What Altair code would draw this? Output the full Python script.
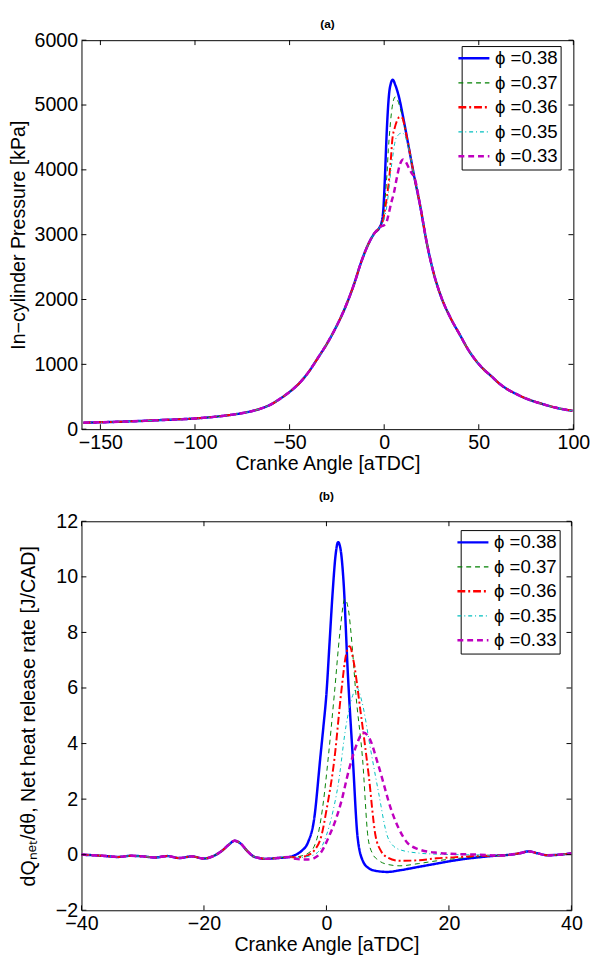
import altair as alt
import pandas as pd

# ---------------- shared series definitions ----------------
LABELS = ["ϕ =0.38", "ϕ =0.37", "ϕ =0.36", "ϕ =0.35", "ϕ =0.33"]
COLORS = ["#0000ff", "#008000", "#ff0000", "#00bfbf", "#bf00bf"]
DASHES = [[1, 0], [5, 4], [8, 3, 2, 3], [4, 3, 1, 3], [6, 4]]
WIDTHS = [2.5, 1.0, 2.0, 1.0, 2.5]

# ---------------- panel (a): in-cylinder pressure ----------------
A_LEFT_X = [-159, -150, -140, -130, -120, -110, -100, -90, -80, -72, -65, -60, -55, -50,
            -45, -40, -35, -30, -25, -21, -16, -12, -8.6, -5.2, -2.6]
A_LEFT_P = [100, 106, 115, 125, 138, 150, 165, 190, 225, 265, 320, 380, 470, 575,
            705, 880, 1100, 1330, 1600, 1850, 2230, 2590, 2840, 3020, 3105]
A_RIGHT_X = [16, 19, 22.4, 25.9, 30, 35, 39.7, 45, 48.3, 52, 56.9, 61, 65.5, 70, 74.2,
             78, 82.8, 87, 91, 95, 99.5]
A_RIGHT_P = [3880, 3450, 2892, 2435, 2050, 1720, 1472, 1200, 1065, 940, 811, 700, 609,
             540, 482, 440, 396, 360, 330, 305, 284]

A_MID_X = [
    [-1.4, -0.3, 0.35, 1.4, 2.6, 3.5, 4.5, 6.0, 7.8, 10.3, 12.9],
    [-1.4, -0.6, 0.5, 1.5, 2.2, 3.0, 3.8, 4.8, 5.8, 7.0, 8.5, 10.3, 12.9],
    [-1.4, -0.5, 0.5, 1.5, 2.6, 3.5, 4.3, 5.5, 6.8, 8.0, 8.8, 9.8, 11.0, 12.9],
    [-1.4, -0.5, 0.5, 1.5, 2.5, 3.4, 4.5, 6.0, 7.5, 8.8, 9.8, 11.0, 12.9],
    [-1.4, -0.5, 0.9, 1.8, 2.6, 3.8, 5.2, 6.5, 8.0, 9.0, 10.0, 11.5, 13.0, 14.5],
]
A_MID_P = [
    [3186, 3450, 3856, 4617, 5175, 5330, 5390, 5300, 5125, 4770, 4364],
    [3180, 3260, 3560, 3950, 4312, 4620, 4870, 5060, 5125, 5080, 4950, 4740, 4364],
    [3170, 3230, 3400, 3600, 3856, 4150, 4465, 4640, 4760, 4815, 4820, 4790, 4640, 4364],
    [3160, 3200, 3300, 3460, 3700, 3957, 4200, 4465, 4540, 4565, 4566, 4520, 4330],
    [3130, 3140, 3170, 3250, 3349, 3500, 3653, 3850, 4050, 4130, 4160, 4120, 4030, 3950],
]

# ---------------- panel (b): net heat release rate ----------------
B_LEFT_X = [-40, -38, -36, -34, -32, -30, -28, -26, -24, -22, -20, -18.5, -17, -16, -15,
            -14, -13, -12, -11, -10, -8, -6]
B_LEFT_Q = [0.0, -0.02, -0.05, -0.08, -0.04, -0.06, -0.1, -0.05, -0.12, -0.06, -0.14,
            -0.05, 0.15, 0.35, 0.5, 0.4, 0.15, -0.05, -0.12, -0.15, -0.12, -0.08]
B_RIGHT_X = [28, 30, 31.5, 33, 34.5, 36, 38, 40]
B_RIGHT_Q = [-0.03, 0.0, 0.05, 0.12, 0.05, -0.02, 0.0, 0.05]

B_MID_X = [
    [-5, -4, -3, -2, -1, -0.5, 0, 0.5, 1, 1.5, 1.9, 2.3, 2.8, 3.5, 4.3, 5.1, 6, 7, 8, 10,
     12, 15, 18, 20, 22, 25],
    [-5, -4, -3, -2, -1.3, -0.5, 0.27, 1.3, 2.2, 3.0, 3.6, 4.2, 4.8, 5.9, 6.8, 7.5, 8.5,
     10, 12, 15, 18, 22, 25],
    [-5, -4, -3, -2, -0.8, 0, 1.3, 2.4, 3.2, 3.8, 4.4, 5.6, 6.9, 8, 9, 10, 12, 15, 18,
     22, 25],
    [-5, -4, -3, -2, -1, 0, 1, 1.9, 3.2, 4.4, 5.0, 5.8, 7.2, 8.5, 9.9, 11, 12, 15, 18,
     22, 25],
    [-5, -4, -3, -2, -1, 0.5, 1.5, 2.4, 3.7, 5.0, 6.0, 7.0, 8.5, 10.7, 13.1, 15, 18, 22,
     25],
]
B_MID_Q = [
    [0.0, 0.15, 0.45, 1.3, 3.5, 4.6, 5.8, 7.6, 9.4, 10.8, 11.25, 11.0, 9.8, 6.5, 3.5,
     0.6, -0.25, -0.5, -0.58, -0.62, -0.56, -0.44, -0.32, -0.24, -0.17, -0.09],
    [-0.08, -0.04, 0.05, 0.3, 0.8, 1.9, 3.44, 5.8, 8.0, 9.2, 8.8, 7.5, 5.8, 3.44, 0.6,
     0.05, -0.2, -0.35, -0.4, -0.32, -0.22, -0.12, -0.07],
    [-0.1, -0.08, -0.02, 0.15, 0.7, 1.6, 3.44, 5.82, 7.2, 7.5, 7.0, 5.1, 2.86, 0.7, 0.1,
     -0.1, -0.22, -0.2, -0.13, -0.08, -0.04],
    [-0.12, -0.1, -0.06, 0.0, 0.2, 0.7, 1.5, 2.5, 4.64, 5.8, 6.0, 5.5, 3.8, 2.25, 0.7,
     0.3, 0.18, 0.06, 0.02, 0.0, -0.01],
    [-0.15, -0.17, -0.17, -0.12, 0.05, 0.7, 1.25, 1.89, 3.08, 4.0, 4.4, 4.2, 3.2, 1.54,
     0.46, 0.2, 0.07, 0.02, 0.0],
]

# ---------------- axis ticks ----------------
A_XTICKS = [-150, -100, -50, 0, 50, 100]
A_YTICKS = [0, 1000, 2000, 3000, 4000, 5000, 6000]
B_XTICKS = [-40, -20, 0, 20, 40]
B_YTICKS = [-2, 0, 2, 4, 6, 8, 10, 12]

FONT = "Liberation Sans"
FS = 20
LFS = 19
H = 397
TICK = 5


def build(lx, ly, mxs, mys, rx, ry):
    rows = []
    for lab, w, mx, my in zip(LABELS, WIDTHS, mxs, mys):
        xs = lx + mx + rx
        ys = ly + my + ry
        for i, (a, b) in enumerate(zip(xs, ys)):
            rows.append({"phi": lab, "w": w, "x": a, "y": b, "o": i})
    return pd.DataFrame(rows)


def panel(df, W, xdom, ydom, xticks, yticks, ytitle, title, toff, tpad, legx, legy):
    xs = alt.Scale(domain=xdom, nice=False, zero=False)
    ys = alt.Scale(domain=ydom, nice=False, zero=False)
    leg = alt.Legend(
        orient="none", legendX=legx, legendY=legy, title=None,
        symbolType="stroke", symbolSize=1000,
        symbolStrokeWidth=alt.ExprRef(
            expr="(datum.value == 'ϕ =0.37' || datum.value == 'ϕ =0.35') ? 1.2 : 2.5"),
        labelFont=FONT, labelFontSize=LFS, labelColor="black", labelOffset=12,
        strokeColor="black", fillColor="white", padding=3, rowPadding=5,
        cornerRadius=0,
    )
    lines = alt.Chart(df).mark_line(clip=True, interpolate="monotone").encode(
        x=alt.X("x:Q", scale=xs, axis=alt.Axis(
            values=xticks, title="Cranke Angle [aTDC]", ticks=False, domain=False,
            grid=False, labelPadding=4, titlePadding=1, labelFlush=False,
            labelOverlap=False)),
        y=alt.Y("y:Q", scale=ys, axis=alt.Axis(
            values=yticks, title=ytitle, ticks=False, domain=False, grid=False,
            format="d", labelPadding=4, titlePadding=tpad, labelOverlap=False)),
        color=alt.Color("phi:N", scale=alt.Scale(domain=LABELS, range=COLORS), legend=leg),
        strokeDash=alt.StrokeDash("phi:N", scale=alt.Scale(domain=LABELS, range=DASHES),
                                  legend=leg),
        strokeWidth=alt.StrokeWidth("w:Q", scale=None, legend=None),
        order=alt.Order("o:Q"),
    )
    xt = pd.DataFrame({"t": xticks})
    yt = pd.DataFrame({"t": yticks})
    bx = alt.Chart(xt).mark_rule(color="black", strokeWidth=1).encode(
        x=alt.X("t:Q", scale=xs), y=alt.value(H), y2=alt.value(H - TICK))
    tx = alt.Chart(xt).mark_rule(color="black", strokeWidth=1).encode(
        x=alt.X("t:Q", scale=xs), y=alt.value(0), y2=alt.value(TICK))
    ly = alt.Chart(yt).mark_rule(color="black", strokeWidth=1).encode(
        y=alt.Y("t:Q", scale=ys), x=alt.value(0), x2=alt.value(TICK))
    ry = alt.Chart(yt).mark_rule(color="black", strokeWidth=1).encode(
        y=alt.Y("t:Q", scale=ys), x=alt.value(W - TICK), x2=alt.value(W))
    return alt.layer(lines, bx, tx, ly, ry).properties(
        width=W, height=H,
        title=alt.TitleParams(title, font=FONT, fontSize=12, fontWeight="bold",
                              color="black", offset=toff, frame="group"),
    )


dfa = build(A_LEFT_X, A_LEFT_P, A_MID_X, A_MID_P, A_RIGHT_X, A_RIGHT_P)
dfb = build(B_LEFT_X, B_LEFT_Q, B_MID_X, B_MID_Q, B_RIGHT_X, B_RIGHT_Q)

pa = panel(dfa, 502, [-160, 100], [0, 6000], A_XTICKS, A_YTICKS,
           "In−cylinder Pressure [kPa]", "(a)", -1, 6, 388, 6)
pb = panel(dfb, 500, [-40, 40], [-2, 12], B_XTICKS, B_YTICKS,
           "dQₙₑₜ/dθ, Net heat release rate [J/CAD]", "(b)", 9, 17, 387, 9)

chart = alt.vconcat(alt.hconcat(pa), alt.hconcat(pb), spacing=15).resolve_scale(
    color="independent", strokeDash="independent"
).resolve_legend(
    color="independent", strokeDash="independent"
).properties(
    padding=0, background="white"
).configure_view(
    stroke="black", strokeWidth=1
).configure_axis(
    labelFont=FONT, labelFontSize=FS, labelColor="black",
    titleFont=FONT, titleFontSize=FS, titleFontWeight="normal", titleColor="black",
)

chart.save("out.html", embed_options={"renderer": "svg", "actions": False})
